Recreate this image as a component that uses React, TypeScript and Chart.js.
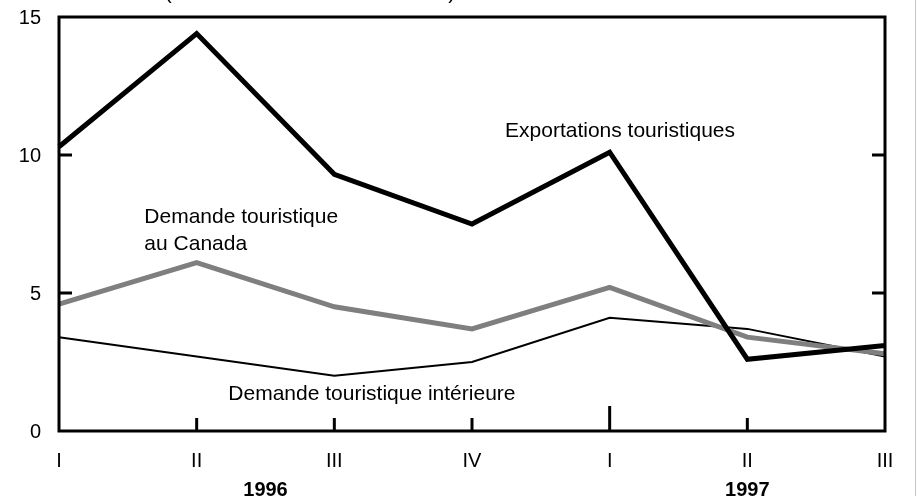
import React, { useEffect, useRef } from "react";
import { Chart, registerables } from "chart.js";

Chart.register(...registerables);

const quarters = ["I", "II", "III", "IV", "I", "II", "III"];
const years = ["1996", "1997"];
const yearSpans = [[0, 3], [4, 6]];
const exportations = [10.3, 14.4, 9.3, 7.5, 10.1, 2.6, 3.1];
const demandeCanada = [4.6, 6.1, 4.5, 3.7, 5.2, 3.4, 2.8];
const demandeInterieure = [3.4, 2.7, 2.0, 2.5, 4.1, 3.7, 2.7];
const yTicks = [0, 5, 10, 15];
const titleText = "(en données désaisonnalisées)";
const labelExport = "Exportations touristiques";
const labelCanada = ["Demande touristique", "au Canada"];
const labelInterieure = "Demande touristique intérieure";

const FONT = "'Liberation Sans', Arial, Helvetica, sans-serif";

const decorPlugin = {
  id: "decor",
  afterDatasetsDraw(chart: any) {
    const { ctx, chartArea } = chart;
    const xs = chart.scales.x;
    const ys = chart.scales.y;
    const { left, right, top, bottom } = chartArea;
    ctx.save();
    ctx.strokeStyle = "#000";
    ctx.lineWidth = 3;
    ctx.lineCap = "square";
    ctx.strokeRect(left, top, right - left, bottom - top);

    // y ticks inward on both sides + labels
    ctx.lineCap = "butt";
    ctx.fillStyle = "#000";
    ctx.font = `20px ${FONT}`;
    ctx.textAlign = "right";
    ctx.textBaseline = "middle";
    for (const v of yTicks) {
      const y = ys.getPixelForValue(v);
      ctx.fillText(String(v), left - 18, y + 1);
      if (v === 0 || v === 15) continue;
      ctx.beginPath();
      ctx.moveTo(left, y);
      ctx.lineTo(left + 13, y);
      ctx.moveTo(right, y);
      ctx.lineTo(right - 13, y);
      ctx.stroke();
    }
    // x ticks inward
    for (let i = 1; i < quarters.length - 1; i++) {
      const x = xs.getPixelForValue(i);
      const len = quarters[i] === "I" ? 25 : 13;
      ctx.beginPath();
      ctx.moveTo(x, bottom);
      ctx.lineTo(x, bottom - len);
      ctx.stroke();
    }

    // year labels
    ctx.font = `bold 20px ${FONT}`;
    ctx.textAlign = "center";
    ctx.textBaseline = "middle";
    years.forEach((yr, k) => {
      const [a, b] = yearSpans[k];
      const x = (xs.getPixelForValue(a) + xs.getPixelForValue(b)) / 2;
      ctx.fillText(yr, x, bottom + 59);
    });

    // series labels
    ctx.font = `21px ${FONT}`;
    ctx.textAlign = "left";
    ctx.textBaseline = "alphabetic";
    ctx.fillText(labelExport, xs.getPixelForValue(3.24), ys.getPixelForValue(10.65));
    ctx.fillText(labelCanada[0], xs.getPixelForValue(0.62), ys.getPixelForValue(7.53));
    ctx.fillText(labelCanada[1], xs.getPixelForValue(0.62), ys.getPixelForValue(6.55));
    ctx.fillText(labelInterieure, xs.getPixelForValue(1.23), ys.getPixelForValue(1.12));

    // title (mostly cut off above the picture)
    ctx.textAlign = "center";
    ctx.fillText(titleText, 310, -1);
    ctx.restore();
  },
};

export default function App() {
  const ref = useRef<HTMLCanvasElement | null>(null);
  useEffect(() => {
    if (!ref.current) return;
    Chart.defaults.font.family = FONT;
    const chart = new Chart(ref.current, {
      type: "line",
      data: {
        labels: quarters,
        datasets: [
          {
            label: labelExport,
            data: exportations,
            borderColor: "#000",
            borderWidth: 5,
            pointRadius: 0,
            tension: 0,
            fill: false,
            borderJoinStyle: "miter",
          },
          {
            label: labelCanada.join(" "),
            data: demandeCanada,
            borderColor: "#7f7f7f",
            borderWidth: 5,
            pointRadius: 0,
            tension: 0,
            fill: false,
            borderJoinStyle: "miter",
          },
          {
            label: labelInterieure,
            data: demandeInterieure,
            borderColor: "#000",
            borderWidth: 2,
            pointRadius: 0,
            tension: 0,
            fill: false,
            borderJoinStyle: "miter",
          },
        ],
      },
      options: {
        animation: false,
        responsive: false,
        devicePixelRatio: 1,
        layout: { autoPadding: false, padding: { left: 0, top: 17, right: 32, bottom: 0 } },
        plugins: { legend: { display: false }, tooltip: { enabled: false }, title: { display: false } },
        scales: {
          x: {
            type: "category",
            offset: false,
            grid: { display: false, drawTicks: false },
            border: { display: false },
            ticks: { color: "#000", font: { size: 20, family: FONT }, padding: 18, maxRotation: 0, autoSkip: false },
            afterFit: (s: any) => { s.height = 65; },
          },
          y: {
            min: 0,
            max: 15,
            grid: { display: false, drawTicks: false },
            border: { display: false },
            ticks: { stepSize: 5, display: false },
            afterFit: (s: any) => { s.width = 59; },
          },
        },
      },
      plugins: [decorPlugin],
    });
    return () => chart.destroy();
  }, []);
  return (
    <div style={{ position: "absolute", left: 0, top: 0, width: 917, height: 496, background: "#fff" }}>
      <canvas ref={ref} width={917} height={496} style={{ display: "block", width: 917, height: 496 }} />
      <div style={{ position: "absolute", left: 915, top: 0, width: 1, height: 496, background: "#c4c4c4" }} />
    </div>
  );
}
